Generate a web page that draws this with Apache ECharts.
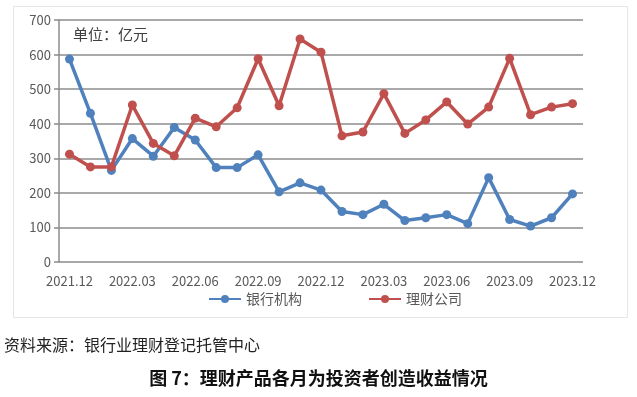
<!DOCTYPE html>
<html>
<head>
<meta charset="utf-8">
<script src="https://cdn.jsdelivr.net/npm/echarts@6/dist/echarts.min.js"></script>
<style>
  html, body { margin: 0; padding: 0; background: #fff; }
  #main { width: 637px; height: 397px; }
</style>
</head>
<body>
<div id="main"></div>
<script>
// 月份
var months = [
  '2021.12', '2022.01', '2022.02', '2022.03', '2022.04', '2022.05', '2022.06',
  '2022.07', '2022.08', '2022.09', '2022.10', '2022.11', '2022.12',
  '2023.01', '2023.02', '2023.03', '2023.04', '2023.05', '2023.06',
  '2023.07', '2023.08', '2023.09', '2023.10', '2023.11', '2023.12'
];
// 银行机构（亿元）
var bankValues = [587, 430, 265, 357, 306, 389, 353, 273, 273, 310, 203, 229, 208,
  146, 137, 167, 120, 128, 137, 111, 244, 123, 104, 128, 197];
// 理财公司（亿元）
var wmcValues = [312, 275, 275, 454, 343, 307, 416, 391, 446, 588, 452, 645, 607,
  365, 376, 487, 372, 411, 463, 399, 448, 589, 426, 448, 458];
var yTicks = [0, 100, 200, 300, 400, 500, 600, 700];

var chart = echarts.init(document.getElementById('main'), null, { renderer: 'canvas' });

var font = '"Noto Sans CJK SC", "Noto Sans", sans-serif';

chart.setOption({
  backgroundColor: '#fff',
  animation: false,
  textStyle: { fontFamily: font },
  graphic: [
    {
      type: 'rect',
      shape: { x: 13.5, y: 6.5, width: 614, height: 311 },
      style: { fill: 'none', stroke: '#e6e6e6', lineWidth: 1 },
      z: -1
    },
    {
      type: 'text', left: 73, top: 27,
      style: { text: '单位：亿元', fill: '#404040', font: '15px ' + font }
    },
    {
      type: 'text', left: 4, top: 337,
      style: { text: '资料来源：银行业理财登记托管中心', fill: '#222', font: '16px ' + font }
    },
    {
      type: 'text', left: 'center', top: 369,
      style: { text: '图 7：理财产品各月为投资者创造收益情况', fill: '#111', font: 'bold 18px ' + font }
    }
  ],
  legend: {
    top: 287,
    left: 203,
    itemGap: 66,
    itemWidth: 32,
    itemHeight: 10,
    textStyle: { color: '#595959', fontSize: 14, fontFamily: font },
    data: ['银行机构', '理财公司']
  },
  grid: { left: 59, right: 54, top: 20, bottom: 135 },
  xAxis: {
    type: 'category',
    data: months,
    boundaryGap: true,
    axisLine: { show: false },
    axisTick: { show: false },
    axisLabel: {
      interval: 2,
      color: '#595959',
      fontSize: 13,
      margin: 13,
      fontFamily: font
    }
  },
  yAxis: {
    type: 'value',
    min: yTicks[0],
    max: yTicks[yTicks.length - 1],
    interval: 100,
    axisLine: { show: true, lineStyle: { color: '#8c8c8c', width: 1.5 } },
    axisTick: { show: true, length: 5, lineStyle: { color: '#8c8c8c', width: 1.5 } },
    splitLine: { lineStyle: { color: '#8c8c8c', width: 1.5 } },
    axisLabel: { color: '#595959', fontSize: 13, margin: 8, fontFamily: font }
  },
  series: [
    {
      name: '银行机构',
      type: 'line',
      data: bankValues,
      symbol: 'circle',
      symbolSize: 9,
      lineStyle: { color: '#4f81bd', width: 3.5 },
      itemStyle: { color: '#4f81bd' }
    },
    {
      name: '理财公司',
      type: 'line',
      data: wmcValues,
      symbol: 'circle',
      symbolSize: 9,
      lineStyle: { color: '#c0504d', width: 3.5 },
      itemStyle: { color: '#c0504d' }
    }
  ]
});
</script>
</body>
</html>
